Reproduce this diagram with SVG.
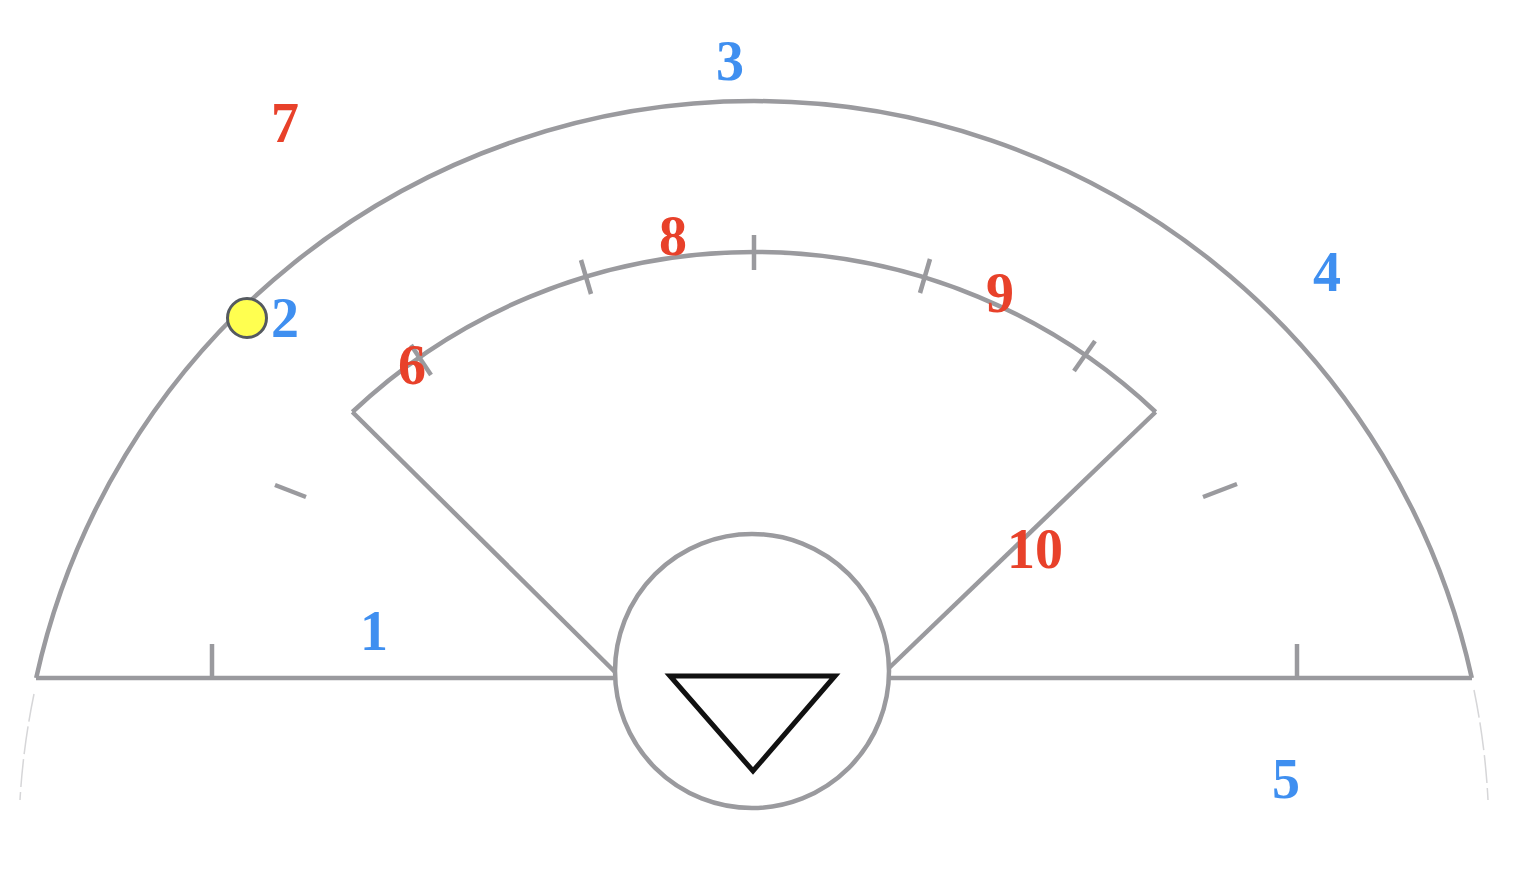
<svg xmlns="http://www.w3.org/2000/svg" width="1518" height="876" viewBox="0 0 1518 876">
<style>
.g{fill:none;stroke:#9a9a9e;stroke-width:4.5;stroke-linecap:butt}
.faint{fill:none;stroke:#d6d6d8;stroke-width:1.5;stroke-dasharray:28 5}
.lbl{font-family:"Liberation Serif","DejaVu Serif",serif;font-weight:bold;font-size:56px;text-anchor:middle}
.b{fill:#3f8ff0}
.r{fill:#e8412a}
</style>
<rect width="1518" height="876" fill="#ffffff"/>
<g id="outer">
<path class="g" d="M36.2 678 A735 735 0 0 1 1471.8 678"/>
<path class="faint" d="M34 694 A735 735 0 0 0 20 800"/>
<path class="faint" d="M1474 690 A735 735 0 0 1 1488 800"/>
<line class="g" x1="36" y1="678" x2="615" y2="678"/>
<line class="g" x1="889" y1="678" x2="1472" y2="678"/>
<line class="g" x1="212" y1="644" x2="212" y2="678"/>
<line class="g" x1="1297" y1="644" x2="1297" y2="678"/>
<line class="g" x1="275" y1="485" x2="306" y2="497"/>
<line class="g" x1="1203" y1="497" x2="1237" y2="484"/>
</g>
<g id="inner">
<path class="g" d="M352.4 412 A584 584 0 0 1 1155.6 412"/>
<line class="g" x1="352.4" y1="412" x2="615" y2="672"/>
<line class="g" x1="1155.6" y1="412" x2="889" y2="668"/>
<line class="g" x1="754" y1="235" x2="754" y2="270"/>
<line class="g" x1="581" y1="260" x2="591" y2="294"/>
<line class="g" x1="930" y1="259" x2="920" y2="293"/>
<line class="g" x1="1095" y1="341" x2="1074" y2="371"/>
<line class="g" x1="411" y1="345" x2="431" y2="375"/>
</g>
<g id="center">
<circle class="g" cx="752" cy="671" r="137" fill="#ffffff"/>
<polygon points="670,676 835,676 753,771" fill="none" stroke="#111111" stroke-width="5" stroke-linejoin="miter"/>
</g>
<g id="marker">
<circle cx="247" cy="318" r="19.5" fill="#ffff50" stroke="#555a60" stroke-width="3"/>
</g>
<g id="labels">
<text class="lbl b" x="730" y="80">3</text>
<text class="lbl r" x="285" y="142">7</text>
<text class="lbl b" x="285" y="337">2</text>
<text class="lbl r" x="673" y="255">8</text>
<text class="lbl r" x="1000" y="312">9</text>
<text class="lbl b" x="1327" y="291">4</text>
<text class="lbl r" x="412" y="384">6</text>
<text class="lbl r" x="1035" y="568">10</text>
<text class="lbl b" x="374" y="650">1</text>
<text class="lbl b" x="1286" y="798">5</text>
</g>
</svg>
